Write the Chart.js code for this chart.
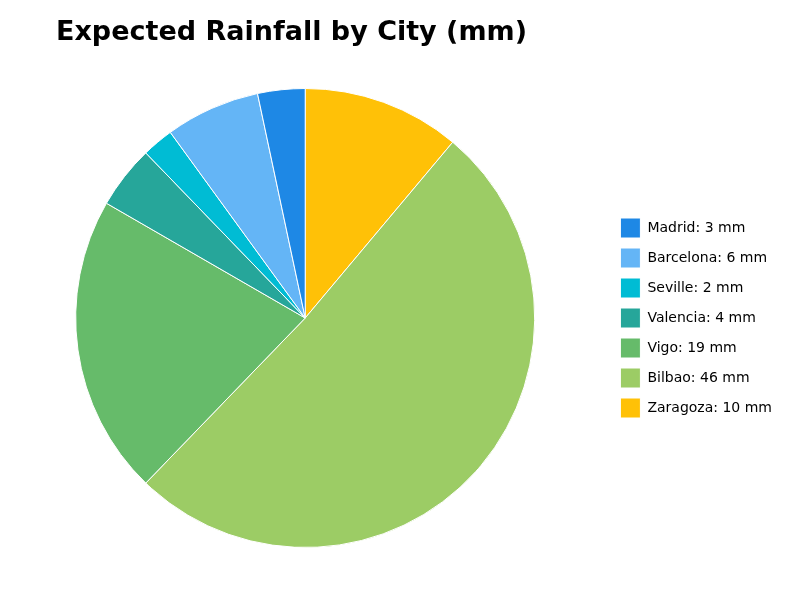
<!DOCTYPE html>
<html><head><meta charset="utf-8">
<script src="https://cdn.jsdelivr.net/npm/chart.js@4"></script>
<style>body{margin:0;background:#fff}#t{position:absolute;left:56px;top:15px;font:bold 27px "DejaVu Sans";color:#000}#w{width:800px;height:600px}</style>
</head><body>
<div id="t">Expected Rainfall by City (mm)</div>
<div id="w"><canvas id="c"></canvas></div>
<script>
const cities=["Madrid","Barcelona","Seville","Valencia","Vigo","Bilbao","Zaragoza"];
const rainfall=[3,6,2,4,19,46,10];
const colors=["#1E88E5","#64B5F6","#00BCD4","#26A69A","#66BB6A","#9CCC65","#FFC107"];
// Drawn clockwise from top in reverse order so slices run counter-clockwise like reference
const labels=cities.map((c,i)=>c+": "+rainfall[i]+" mm").reverse();
new Chart(document.getElementById('c'),{type:'pie',
data:{labels:labels,datasets:[{data:rainfall.slice().reverse(),backgroundColor:colors.slice().reverse(),borderColor:'#fff',borderWidth:1}]},
options:{responsive:true,maintainAspectRatio:false,animation:false,
layout:{padding:{top:88,bottom:52,left:0,right:18}},
plugins:{title:{display:false},tooltip:{enabled:false},
legend:{position:'right',reverse:true,labels:{font:{family:'DejaVu Sans',size:14},color:'#000',boxWidth:20,boxHeight:20,padding:10}}}}});
</script></body></html>
